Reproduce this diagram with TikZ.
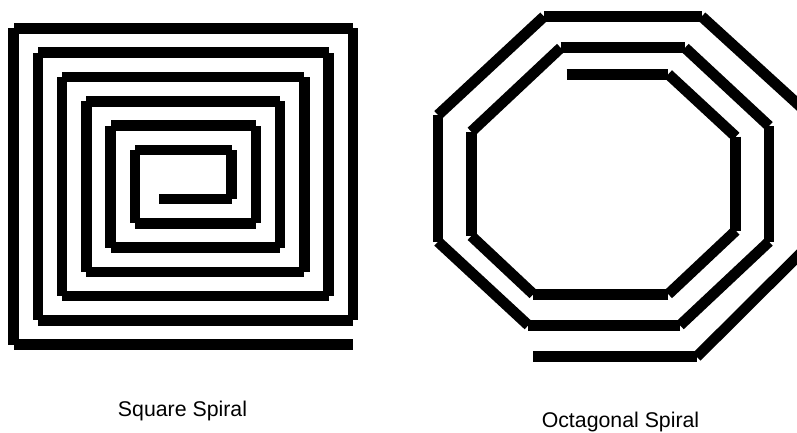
\documentclass[tikz,border=0pt]{standalone}
\usepackage{fontspec}
\setmainfont{Liberation Sans}
\tikzset{
  seg/.style={line width=10.6pt, line cap=butt, black},
  oseg/.style={line width=10.8pt, line cap=butt, black},
  caption/.style={anchor=base, inner sep=0pt, font=\fontsize{21.3}{25}\selectfont}
}
\begin{document}
\begin{tikzpicture}[x=1pt,y=-1pt]
\useasboundingbox (0,0) rectangle (797,432);
\clip (0,0) rectangle (797,432);
% ---------- square spiral ----------
% L_k = 13.5+24.3k, R_k = 353-24.3k, T_k = 28.3+24.3k, B_k = 344.7-24.3k
\foreach \k in {0,...,5} {
  % right side, going up
  \draw[seg] ({353-24.3*\k},{344.7-24.3*(\k+1)}) -- ({353-24.3*\k},{28.3+24.3*\k});
  % top side, going left
  \draw[seg] ({353-24.3*\k},{28.3+24.3*\k}) -- ({13.5+24.3*\k},{28.3+24.3*\k});
  % left side, going down
  \draw[seg] ({13.5+24.3*\k},{28.3+24.3*\k}) -- ({13.5+24.3*\k},{344.7-24.3*\k});
}
\foreach \k in {0,...,4} {
  % bottom side B_{k+1} from L_{k+1} to R_k
  \draw[seg] ({13.5+24.3*(\k+1)},{344.7-24.3*(\k+1)}) -- ({353-24.3*\k},{344.7-24.3*(\k+1)});
}
% innermost start and outer lead-out
\draw[seg] (159,198.9) -- (231.5,198.9);
\draw[seg] (13.5,344.7) -- (353.3,344.7);
% ---------- octagonal spiral ----------
\coordinate (s0) at (566.7,74.2);
\coordinate (p1) at (668.3,74.2);
\coordinate (p2) at (735.8,136.7);
\coordinate (p3) at (735.8,230.7);
\coordinate (p4) at (668.3,294.2);
\coordinate (p5) at (533.3,294.2);
\coordinate (p6) at (471.3,236);
\coordinate (p7) at (471.3,131.7);
\coordinate (q0) at (560.7,47.8);
\coordinate (q1) at (685,47.8);
\coordinate (q2) at (769,126);
\coordinate (q3) at (769,241.7);
\coordinate (q4) at (680,325.3);
\coordinate (q5) at (528.3,325.3);
\coordinate (q6) at (438,241.7);
\coordinate (q7) at (438,115);
\coordinate (r0) at (544,16.5);
\coordinate (r1) at (701.7,16.5);
\coordinate (r2) at (802,108);
\coordinate (r3) at (802,252);
\coordinate (r4) at (696.7,356.8);
\coordinate (e0) at (533.3,356.8);
\foreach \a/\b in {s0/p1,p1/p2,p2/p3,p3/p4,p4/p5,p5/p6,p6/p7,p7/q0,
                   q0/q1,q1/q2,q2/q3,q3/q4,q4/q5,q5/q6,q6/q7,q7/r0,
                   r0/r1,r1/r2,r2/r3,r3/r4,r4/e0}
  \draw[oseg] (\a) -- (\b);
% ---------- captions ----------
\node[caption] (sq) at (182.5,416) {Square Spiral};
\node[caption] (oc) at (620.5,427) {Octagonal Spiral};
\end{tikzpicture}
\end{document}
